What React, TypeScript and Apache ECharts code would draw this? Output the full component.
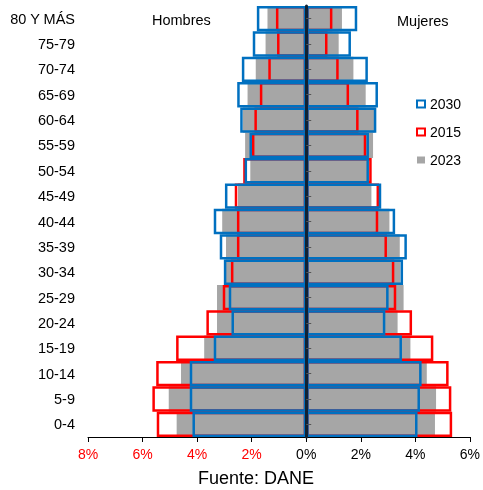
import React, { useEffect, useRef } from "react";
import * as echarts from "echarts";

const categories = ["0-4","5-9","10-14","15-19","20-24","25-29","30-34","35-39","40-44","45-49","50-54","55-59","60-64","65-69","70-74","75-79","80 Y MÁS"];

// Hombres (percent, shown to the left)
const men2023 = [4.75,5.04,4.59,3.74,3.27,3.27,2.96,2.94,3.08,2.50,2.05,2.24,2.32,2.15,1.85,1.49,1.42];
const men2015 = [5.48,5.64,5.50,4.77,3.66,3.06,2.76,2.54,2.54,2.62,2.31,1.99,1.90,1.70,1.39,1.07,1.11];
const men2030 = [4.17,4.27,4.27,3.39,2.74,2.84,3.02,3.17,3.39,2.98,2.26,2.08,2.42,2.53,2.36,1.96,1.81];

// Mujeres (percent, shown to the right)
const women2023 = [4.72,4.76,4.42,3.82,3.35,3.57,3.45,3.43,3.05,2.39,2.28,2.45,2.51,2.18,1.73,1.19,1.31];
const women2015 = [5.35,5.32,5.22,4.66,3.88,3.30,3.23,2.96,2.64,2.67,2.40,2.20,1.92,1.57,1.19,0.78,0.96];
const women2030 = [4.08,4.17,4.23,3.51,2.90,3.02,3.55,3.69,3.26,2.75,2.30,2.30,2.57,2.63,2.26,1.64,1.87];

const xTicksMin = -8;
const xTicksMax = 6;
const xTickStep = 2;

const FONT = "Liberation Sans, Arial, sans-serif";
const GRAY = "#a6a6a6";
const RED = "#ff0000";
const BLUE = "#0070c0";

export default function App() {
  const ref = useRef<HTMLDivElement>(null);

  useEffect(() => {
    if (!ref.current) return;
    const chart = echarts.init(ref.current, undefined, { renderer: "svg" });

    const filled = (name: string, stack: string, data: number[], color: string) => ({
      name,
      type: "bar",
      stack,
      data,
      barGap: "-100%",
      barCategoryGap: "0%",
      itemStyle: { color },
      emphasis: { disabled: true },
    });
    const outline = (name: string, stack: string, data: number[], color: string, w: number) => ({
      name,
      type: "bar",
      stack,
      data,
      barGap: "-100%",
      barCategoryGap: "0%",
      itemStyle: { color: "rgba(0,0,0,0)", borderColor: color, borderWidth: w },
      emphasis: { disabled: true },
    });

    chart.setOption({
      animation: false,
      textStyle: { fontFamily: FONT },
      grid: { left: 88, right: 9, top: 6, bottom: 53, containLabel: false },
      legend: {
        orient: "vertical",
        left: 411,
        top: 92,
        itemWidth: 8,
        itemHeight: 7,
        itemGap: 14,
        selectedMode: false,
        icon: "rect",
        textStyle: { fontSize: 14, color: "#000", fontFamily: FONT },
        data: [
          { name: "2030", itemStyle: { color: "#fff", borderColor: BLUE, borderWidth: 2 } },
          { name: "2015", itemStyle: { color: "#fff", borderColor: RED, borderWidth: 2 } },
          { name: "2023", itemStyle: { color: GRAY, borderWidth: 0 } },
        ],
      },
      xAxis: {
        type: "value",
        min: xTicksMin,
        max: xTicksMax,
        interval: xTickStep,
        splitLine: { show: false },
        axisLine: { show: true, lineStyle: { color: "#000", width: 1 } },
        axisTick: { show: true, length: 5, lineStyle: { color: "#000" } },
        axisLabel: {
          margin: 10,
          fontSize: 14,
          fontFamily: FONT,
          formatter: (v: number) => (v < 0 ? `{r|${Math.abs(v)}%}` : `{b|${v}%}`),
          rich: {
            r: { color: RED, fontSize: 14, fontFamily: FONT },
            b: { color: "#000", fontSize: 14, fontFamily: FONT },
          },
        },
      },
      yAxis: [
        {
          type: "category",
          data: categories,
          axisLine: { show: false, onZero: false },
          axisTick: { show: false },
          axisLabel: { margin: 13, fontSize: 14.5, color: "#000", fontFamily: FONT },
        },
        {
          type: "category",
          data: categories,
          position: "left",
          z: 10,
          axisLine: { show: true, onZero: true, lineStyle: { color: "#112233", width: 3 } },
          axisTick: { show: true, inside: true, alignWithLabel: true, length: 5, lineStyle: { color: "#555" } },
          axisLabel: { show: false },
        },
      ],
      series: [
        filled("2023", "y2023", men2023.map((v) => -v), GRAY),
        filled("2023", "y2023", women2023, GRAY),
        outline("2015", "y2015", men2015.map((v) => -v), RED, 2.5),
        outline("2015", "y2015", women2015, RED, 2.5),
        outline("2030", "y2030", men2030.map((v) => -v), BLUE, 2.5),
        outline("2030", "y2030", women2030, BLUE, 2.5),
      ],
      graphic: [
        { type: "text", left: 152, top: 12, style: { text: "Hombres", fontSize: 14.5, fill: "#000", fontFamily: FONT } },
        { type: "text", left: 397, top: 13, style: { text: "Mujeres", fontSize: 14.5, fill: "#000", fontFamily: FONT } },
        {
          type: "text",
          x: 256,
          y: 478,
          style: { text: "Fuente: DANE", fontSize: 18, fill: "#000", fontFamily: FONT, align: "center", verticalAlign: "middle" },
        },
      ],
    });

    return () => chart.dispose();
  }, []);

  return <div ref={ref} style={{ position: "fixed", left: 0, top: 0, width: 483, height: 490 }} />;
}
